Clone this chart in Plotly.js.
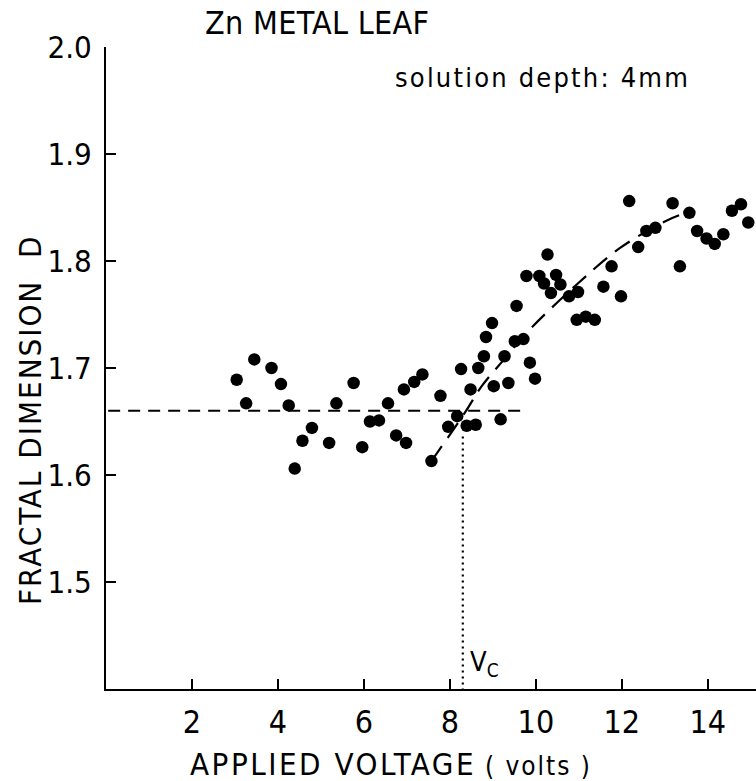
<!DOCTYPE html>
<html>
<head>
<meta charset="utf-8">
<script src="https://cdn.plot.ly/plotly-3.0.1.min.js"></script>
<style>html,body{margin:0;padding:0;background:#fff;}#chart{width:756px;height:781px;}</style>
</head>
<body>
<div id="chart"></div>
<script>
// Measured data points (applied voltage in volts, fractal dimension D)
const voltage = [3.04,3.26,3.45,3.85,4.07,4.25,4.39,4.57,4.79,5.19,5.36,5.76,5.96,6.14,6.35,6.56,6.75,6.93,6.98,7.17,7.36,7.57,7.78,7.96,8.17,8.26,8.39,8.48,8.60,8.66,8.79,8.84,8.98,9.02,9.18,9.27,9.36,9.51,9.55,9.71,9.78,9.86,9.98,10.08,10.19,10.27,10.35,10.47,10.57,10.77,10.98,10.95,11.16,11.37,11.57,11.76,11.98,12.17,12.38,12.57,12.78,13.18,13.35,13.57,13.75,13.97,14.16,14.36,14.56,14.77,14.94];
const dimension = [1.689,1.667,1.708,1.700,1.685,1.665,1.606,1.632,1.644,1.630,1.667,1.686,1.626,1.650,1.651,1.667,1.637,1.680,1.630,1.687,1.694,1.613,1.674,1.645,1.655,1.699,1.646,1.680,1.647,1.700,1.711,1.729,1.742,1.683,1.652,1.711,1.686,1.725,1.758,1.727,1.786,1.705,1.690,1.786,1.779,1.806,1.770,1.787,1.778,1.767,1.771,1.745,1.748,1.745,1.776,1.795,1.767,1.856,1.813,1.828,1.831,1.854,1.795,1.845,1.828,1.821,1.816,1.825,1.847,1.853,1.836];
// Dashed guide curve through the rising part
const fitX = [7.57,8.36,8.74,9.28,9.81,10.95,11.95,13.0,13.35];
const fitY = [1.613,1.659,1.683,1.709,1.734,1.778,1.812,1.837,1.843];
// Horizontal plateau line
const plateauX = [0.05,9.75];
const plateauY = [1.66,1.66];
// Critical voltage Vc
const vcX = [8.30,8.30];
const vcY = [1.636,1.40];
const xTicks = [2,4,6,8,10,12,14];
const yTicks = [1.5,1.6,1.7,1.8,1.9,2.0];
const yTickText = ['1.5','1.6','1.7','1.8','1.9','2.0'];

const FONT = '"Liberation Sans Narrow","DejaVu Sans Condensed","Arial Narrow","Liberation Sans",sans-serif';

const traces = [
  {x: plateauX, y: plateauY, mode:'lines', line:{color:'#000', width:2, dash:'12px,8px'}, hoverinfo:'skip'},
  {x: fitX, y: fitY, mode:'lines', line:{color:'#000', width:2.2, dash:'18px,10px', shape:'spline'}, hoverinfo:'skip'},
  {x: vcX, y: vcY, mode:'lines', line:{color:'#000', width:2.2, dash:'2px,4px'}, hoverinfo:'skip'},
  {x: voltage, y: dimension, mode:'markers', marker:{color:'#000', size:12.5}, cliponaxis:false}
];

const LS = (s, px) => '<span style="letter-spacing:' + px + 'px">' + s + '</span>';

const layout = {
  width:756, height:781,
  margin:{l:106, r:0, t:47, b:92},
  paper_bgcolor:'#fff', plot_bgcolor:'#fff',
  showlegend:false,
  font:{family:FONT, color:'#000', size:30},
  xaxis:{
    range:[0,15.12], showgrid:false, zeroline:false,
    showline:true, linecolor:'#000', linewidth:2,
    ticks:'inside', ticklen:10, tickwidth:2, tickcolor:'#000',
    tickvals:xTicks, ticktext:xTicks.map(String),
    tickfont:{family:FONT, size:32, color:'#000'},
    ticklabelstandoff:4
  },
  yaxis:{
    range:[1.4,2.0], showgrid:false, zeroline:false,
    showline:true, linecolor:'#000', linewidth:2,
    ticks:'inside', ticklen:10, tickwidth:2, tickcolor:'#000',
    tickvals:yTicks, ticktext:yTickText,
    tickfont:{family:FONT, size:31, color:'#000'},
    ticklabelstandoff:6
  },
  annotations:[
    {xref:'paper', yref:'paper', x:(317-106)/650, y:1+(47-23)/642, text:LS('Zn METAL LEAF',0.3), showarrow:false, font:{family:FONT, size:32}, xanchor:'center', yanchor:'middle'},
    {xref:'paper', yref:'paper', x:(542-106)/650, y:1-(77-47)/642, text:LS('solution depth: 4mm',2.2), showarrow:false, font:{family:FONT, size:27}, xanchor:'center', yanchor:'middle'},
    {xref:'paper', yref:'paper', x:-(106-30)/650, y:(689-420)/642, text:LS('FRACTAL DIMENSION  D',2), textangle:-90, showarrow:false, font:{family:FONT, size:31}, xanchor:'center', yanchor:'middle'},
    {xref:'paper', yref:'paper', x:(391-106)/650, y:-(764-689)/642, text:LS('APPLIED VOLTAGE',2.5) + ' <span style="font-size:26px;letter-spacing:2px">( volts )</span>', showarrow:false, font:{family:FONT, size:31}, xanchor:'center', yanchor:'middle'},
    {xref:'x', yref:'y', x:8.42, y:1.424, text:'V<sub>C</sub>', showarrow:false, font:{family:FONT, size:27}, xanchor:'left', yanchor:'middle'}
  ]
};

Plotly.newPlot('chart', traces, layout, {staticPlot:true, displayModeBar:false});
</script>
</body>
</html>
